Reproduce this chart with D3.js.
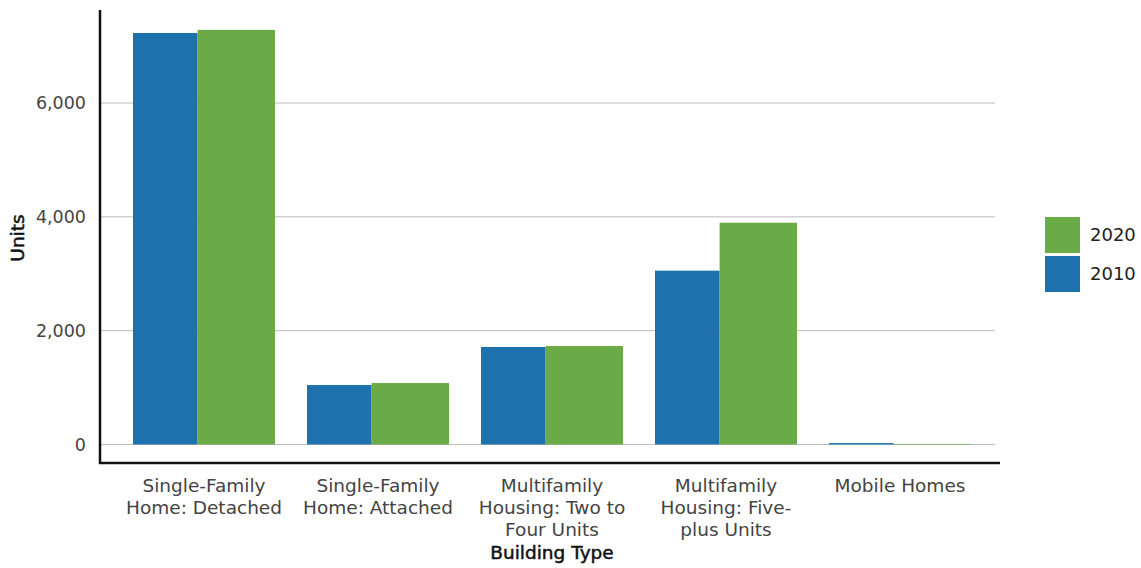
<!DOCTYPE html>
<html>
<head>
<meta charset="utf-8">
<script src="https://cdn.jsdelivr.net/npm/d3@7"></script>
<style>
  body { margin: 0; background: #fff; }
  svg text { font-family: "DejaVu Sans", sans-serif; }
</style>
</head>
<body>
<div id="chart"></div>
<script>
// data
const categories = [
  ["Single-Family", "Home: Detached"],
  ["Single-Family", "Home: Attached"],
  ["Multifamily", "Housing: Two to", "Four Units"],
  ["Multifamily", "Housing: Five-", "plus Units"],
  ["Mobile Homes"]
];
const series = ["2010", "2020"];
const values2010 = [7230, 1045, 1713, 3054, 25];
const values2020 = [7285, 1080, 1730, 3897, 10];
const yTicks = [0, 2000, 4000, 6000];

const width = 1141, height = 568;
const colors = { "2010": "#1d72ad", "2020": "#6aaa47" };

const svg = d3.select("#chart").append("svg")
  .attr("width", width).attr("height", height);

const x = d3.scaleBand()
  .domain(d3.range(categories.length))
  .range([117, 987])
  .paddingInner(0.184)
  .paddingOuter(0.092);

const y = d3.scaleLinear().domain([0, 6000]).range([444.5, 103]);

// gridlines
svg.append("g")
  .selectAll("line")
  .data(yTicks)
  .join("line")
  .attr("x1", 101).attr("x2", 995)
  .attr("y1", d => y(d)).attr("y2", d => y(d))
  .attr("stroke", "#bdbdbd").attr("stroke-width", 1);

// bars - blue slightly narrower than green, as in the original
const blueShare = 0.455;
const groups = svg.append("g")
  .selectAll("g")
  .data(categories.map((c, i) => ({ i, v10: values2010[i], v20: values2020[i] })))
  .join("g")
  .attr("transform", d => `translate(${x(d.i)},0)`);

groups.append("rect")
  .attr("x", 0)
  .attr("width", x.bandwidth() * blueShare)
  .attr("y", d => y(d.v10))
  .attr("height", d => y(0) - y(d.v10))
  .attr("fill", colors["2010"]);

groups.append("rect")
  .attr("x", x.bandwidth() * blueShare)
  .attr("width", x.bandwidth() * (1 - blueShare))
  .attr("y", d => y(d.v20))
  .attr("height", d => y(0) - y(d.v20))
  .attr("fill", colors["2020"]);

// y tick labels
svg.append("g")
  .selectAll("text")
  .data(yTicks)
  .join("text")
  .attr("x", 86)
  .attr("y", d => y(d))
  .attr("dy", "0.36em")
  .attr("text-anchor", "end")
  .attr("font-size", 17.5)
  .attr("fill", "#444")
  .text(d => d3.format(",")(d));

// axis lines
svg.append("line")
  .attr("x1", 100).attr("x2", 100).attr("y1", 10).attr("y2", 464)
  .attr("stroke", "#111").attr("stroke-width", 2.5);
svg.append("line")
  .attr("x1", 99).attr("x2", 1000).attr("y1", 463).attr("y2", 463)
  .attr("stroke", "#111").attr("stroke-width", 2.5);

// category labels
const labels = svg.append("g")
  .selectAll("text")
  .data(categories)
  .join("text")
  .attr("x", (d, i) => x(i) + x.bandwidth() / 2)
  .attr("y", 492)
  .attr("text-anchor", "middle")
  .attr("font-size", 18.5)
  .attr("fill", "#444");
labels.selectAll("tspan")
  .data(d => d)
  .join("tspan")
  .attr("x", function() { return this.parentNode.getAttribute("x"); })
  .attr("dy", (d, i) => i === 0 ? 0 : 22)
  .text(d => d);

// axis titles
svg.append("text")
  .attr("x", 552).attr("y", 559)
  .attr("text-anchor", "middle")
  .attr("font-size", 18.5)
  .attr("fill", "#111")
  .attr("stroke", "#111").attr("stroke-width", 0.5)
  .text("Building Type");

svg.append("text")
  .attr("transform", "translate(24,238) rotate(-90)")
  .attr("text-anchor", "middle")
  .attr("font-size", 18.5)
  .attr("fill", "#111")
  .attr("stroke", "#111").attr("stroke-width", 0.5)
  .text("Units");

// legend (2020 on top)
const legend = svg.append("g")
  .selectAll("g")
  .data(series.slice().reverse())
  .join("g")
  .attr("transform", (d, i) => `translate(1045,${217 + i * 39})`);
legend.append("rect")
  .attr("width", 35).attr("height", 36)
  .attr("fill", d => colors[d]);
legend.append("text")
  .attr("x", 45).attr("y", 18).attr("dy", "0.36em")
  .attr("font-size", 18)
  .attr("fill", "#222")
  .text(d => d);
</script>
</body>
</html>
